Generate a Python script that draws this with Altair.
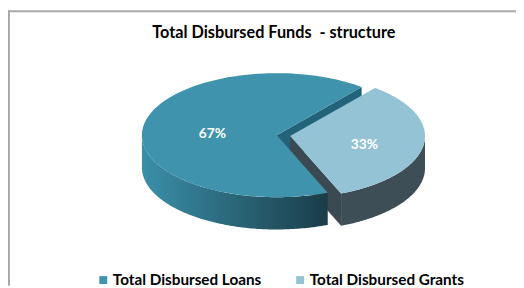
import numpy as np
import pandas as pd
import altair as alt

# ---- chart values ----
title_text = "Total Disbursed Funds\u00a0\u00a0- structure"
categories = ["Total Disbursed Loans", "Total Disbursed Grants"]
shares = [67, 33]
share_labels = ["67%", "33%"]
explode = [0.0, 0.1]

# ---- styles ----
top_colors = ["#3f93ad", "#93c3d4"]
cut_colors = ["#23637a", "#3b4a52"]
wall_colors = ["#3b8fa9", "#3d4e56"]
START_DEG = 51.0   # angle where the first slice starts (counter-clockwise)
DEPTH = 0.52       # thickness of the pie, in y units
N = 120
FONT = "Lato"

W, H = 516, 280
PX_X, PX_Y = 137.0, 63.0
CX, CY = 273.0, 127.0

total = float(sum(shares))
shape_rows = []
label_rows = []


def add_shape(sid, xs, ys):
    for i, (x, y) in enumerate(zip(xs, ys)):
        shape_rows.append({"shape": sid, "i": i, "x": float(x), "y": float(y)})


a = START_DEG
for k, (cat, v) in enumerate(zip(categories, shares)):
    a0, a1 = a, a + 360.0 * v / total
    a = a1
    mid = np.radians((a0 + a1) / 2)
    cx, cy = explode[k] * np.cos(mid), explode[k] * np.sin(mid)
    # top face
    t = np.radians(np.linspace(a0, a1, N))
    add_shape(f"top{k}", [cx] + list(cx + np.cos(t)) + [cx],
              [cy] + list(cy + np.sin(t)) + [cy])
    # visible outer wall
    for lo, hi in [(180, 360), (540, 720)]:
        b0, b1 = max(a0, lo), min(a1, hi)
        if b1 > b0:
            tt = np.radians(np.linspace(b0, b1, N))
            add_shape(f"wall{k}",
                      list(cx + np.cos(tt)) + list(cx + np.cos(tt[::-1])),
                      list(cy + np.sin(tt)) + list(cy + np.sin(tt[::-1]) - DEPTH))
    # visible cut faces
    for edge, normal in [(a0, a0 - 90), (a1, a1 + 90)]:
        if np.sin(np.radians(normal)) < 0:
            ex, ey = cx + np.cos(np.radians(edge)), cy + np.sin(np.radians(edge))
            add_shape(f"cut{k}", [cx, ex, ex, cx], [cy, ey, ey - DEPTH, cy - DEPTH])
    label_rows.append({"cat": cat, "label": share_labels[k],
                       "x": float(cx + 0.52 * np.cos(mid)),
                       "y": float(cy + 0.52 * np.sin(mid))})

shapes = pd.DataFrame(shape_rows)
labels = pd.DataFrame(label_rows)

xscale = alt.Scale(domain=[-CX / PX_X, (W - CX) / PX_X], nice=False, zero=False)
yscale = alt.Scale(domain=[-(H - CY) / PX_Y, CY / PX_Y], nice=False, zero=False)
X = alt.X("x:Q", scale=xscale, axis=None)
Y = alt.Y("y:Q", scale=yscale, axis=None)

gradient = alt.Gradient(
    gradient="linear",
    stops=[alt.GradientStop(color="#3b8fa9", offset=0),
           alt.GradientStop(color="#1a3c48", offset=1)],
    x1=0, x2=1, y1=0, y2=0,
)

base = alt.Chart(shapes)


def poly(sid, fill):
    return base.transform_filter(alt.datum.shape == sid).mark_line(
        fill=fill, stroke=None, strokeWidth=0, interpolate="linear"
    ).encode(x=X, y=Y, order="i:Q")


layers = []
present = set(shapes["shape"])
draw = [("cut0", cut_colors[0]), ("cut1", cut_colors[1]), ("wall1", wall_colors[1]),
        ("top1", top_colors[1]), ("wall0", gradient), ("top0", top_colors[0])]
for sid, fill in draw:
    if sid in present:
        layers.append(poly(sid, fill))

legend_layer = alt.Chart(labels).mark_square(opacity=0, size=1).encode(
    x=X, y=Y,
    color=alt.Color("cat:N", scale=alt.Scale(domain=categories, range=top_colors),
                    legend=alt.Legend(
                        title=None, orient="none", legendX=89, legendY=266,
                        direction="horizontal", symbolType="square", symbolSize=64,
                        symbolOpacity=1, symbolStrokeWidth=0,
                        labelFont=FONT, labelFontSize=15.5, labelFontWeight="bold",
                        labelColor="#000000", labelOffset=2, labelLimit=0,
                        columnPadding=31, padding=0)),
)

text_layer = alt.Chart(labels).mark_text(
    font=FONT, fontSize=14, fontWeight="bold", color="white", dx=5, dy=4
).encode(x=X, y=Y, text="label:N")

one = pd.DataFrame({"a": [0]})
frame_v = alt.Chart(one).mark_rule(color="#a9a9a9", strokeWidth=2).encode(
    x=alt.value(1), y=alt.value(0), y2=alt.value(H))
frame_h = alt.Chart(one).mark_rule(color="#a9a9a9", strokeWidth=2).encode(
    x=alt.value(0), x2=alt.value(W), y=alt.value(1))

chart = alt.layer(*layers, legend_layer, text_layer, frame_v, frame_h).properties(
    width=W, height=H,
    autosize=alt.AutoSizeParams(type="none"),
    padding=0,
    title=alt.TitleParams(text=title_text, font=FONT, fontSize=16.5, fontWeight="bold",
                          color="#000000", anchor="middle", offset=-33, dx=12),
    background="white",
).configure_view(stroke=None)

chart.save("out.html", embed_options={"renderer": "svg", "actions": False})
